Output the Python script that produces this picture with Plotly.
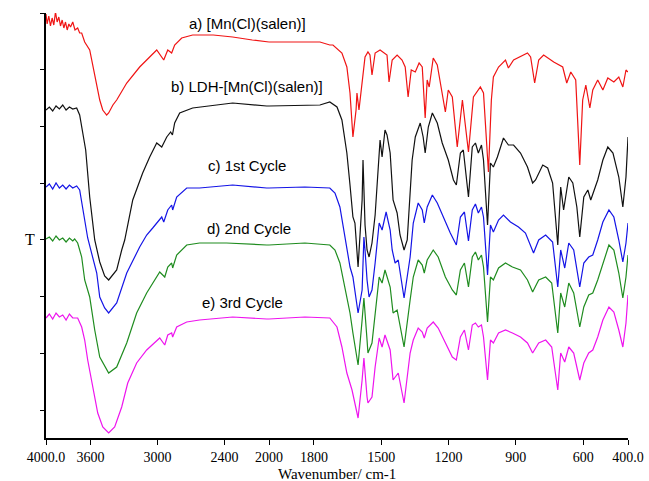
import plotly.graph_objects as go

# ---------------- data ----------------
# wavenumbers (cm-1) and transmittance in arbitrary offset units
wn_a = [4000, 3990, 3975, 3960, 3945, 3930, 3915, 3900, 3885, 3870, 3855, 3840, 3825, 3810, 3795, 3780,
        3760, 3740, 3716, 3698, 3680, 3653, 3608, 3581, 3545, 3518, 3491, 3456, 3438, 3400, 3366, 3276,
        3160, 3052, 3007, 2944, 2908, 2873, 2846, 2783, 2685, 2500, 2326, 2150, 2021, 2000,
        1863, 1773, 1729, 1715, 1675, 1653, 1639, 1626, 1612, 1608, 1599, 1585, 1572, 1559, 1550, 1541,
        1527, 1505, 1492, 1474, 1465, 1451, 1429, 1407, 1393, 1380, 1366, 1348, 1331, 1317, 1304, 1295,
        1286, 1268, 1250, 1237, 1214, 1201, 1183, 1161, 1138, 1111, 1089, 1058, 1044, 1022, 1009, 1000,
        977, 946, 933, 910, 848, 834, 816, 798, 776, 731, 691, 673, 655, 633, 615, 602, 588, 570, 557,
        535, 512, 490, 463, 441, 423, 409, 400]
t_a = [424, 414, 422, 412, 420, 413, 426, 416, 421, 412, 418, 410, 416, 408, 414, 411,
       416, 408, 410, 405, 405, 396, 388, 373, 355, 338, 328, 323, 325, 333, 338, 355,
       371, 383, 388, 378, 388, 385, 393, 400, 403, 403, 401, 398, 396, 396,
       396, 396, 393, 393, 385, 371, 345, 301, 328, 345, 328, 355, 381, 386, 383, 363,
       385, 388, 386, 383, 356, 378, 383, 378, 371, 341, 368, 366, 375, 371, 320, 358,
       351, 380, 373, 355, 326, 348, 341, 291, 338, 286, 341, 351, 345, 266, 338, 361,
       371, 378, 370, 378, 385, 381, 355, 378, 383, 376, 371, 355, 366, 358, 273, 338, 353, 330, 348,
       358, 348, 360, 356, 361, 351, 368, 366]

wn_b = [4000, 3970, 3940, 3910, 3880, 3850, 3820, 3790, 3760, 3725, 3698, 3671, 3644, 3608, 3563, 3518,
        3474, 3438, 3366, 3321, 3294, 3222, 3133, 3070, 3007, 2962, 2917, 2882, 2866, 2846, 2801, 2685,
        2326, 2021, 2000,
        1863, 1773, 1729, 1697, 1675, 1661, 1653, 1639, 1626, 1617, 1603, 1585, 1581, 1572, 1563, 1554,
        1541, 1527, 1509, 1505, 1496, 1483, 1474, 1460, 1447, 1429, 1416, 1398, 1384, 1362, 1348, 1326,
        1313, 1304, 1290, 1272, 1250, 1228, 1201, 1178, 1165, 1147, 1134, 1111, 1094, 1080, 1067, 1053,
        1044, 1026, 1013, 1000, 982, 955, 933, 910, 879, 848, 825, 812, 780, 758, 736, 713, 700, 687,
        664, 646, 628, 615, 597, 579, 566, 535, 512, 490, 467, 441, 423, 409, 400]
t_b = [328, 331, 327, 332, 329, 333, 328, 331, 329, 330, 323, 305, 288, 241, 198, 176,
       162, 158, 168, 188, 198, 238, 265, 281, 295, 291, 301, 306, 303, 315, 325, 330,
       335, 332, 332,
       333, 333, 336, 331, 318, 298, 285, 253, 221, 215, 171, 238, 278, 213, 188, 181,
       195, 223, 278, 298, 281, 308, 303, 285, 238, 225, 203, 188, 198, 278, 301, 315,
       301, 285, 311, 325, 315, 295, 278, 258, 253, 285, 288, 241, 291, 295, 285, 293,
       278, 213, 275, 271, 281, 300, 293, 293, 285, 271, 255, 258, 273, 270, 255, 193, 251, 228,
       261, 255, 231, 201, 241, 248, 238, 258, 278, 291, 285, 261, 231, 261, 301]

wn_c = [4000, 3970, 3940, 3910, 3880, 3850, 3820, 3790, 3760, 3725, 3698, 3671, 3635, 3626, 3545, 3518,
        3474, 3438, 3366, 3276, 3160, 3097, 3043, 2980, 2962, 2944, 2908, 2873, 2864, 2828, 2738, 2623,
        2326, 2021, 2000,
        1840, 1729, 1706, 1684, 1661, 1639, 1626, 1603, 1585, 1577, 1572, 1563, 1554, 1541, 1527, 1509,
        1496, 1478, 1460, 1451, 1438, 1424, 1398, 1371, 1357, 1335, 1317, 1308, 1295, 1272, 1250, 1223,
        1192, 1165, 1147, 1129, 1111, 1094, 1080, 1067, 1053, 1044, 1026, 1013, 1000, 977, 955, 924,
        888, 857, 834, 821, 798, 767, 736, 713, 700, 682, 664, 642, 615, 597, 575, 557, 535, 512, 485,
        463, 441, 423, 409, 400]
t_c = [251, 254, 249, 255, 250, 253, 249, 253, 250, 252, 248, 231, 205, 200, 165, 141,
       130, 125, 135, 165, 191, 203, 210, 218, 221, 216, 228, 233, 228, 241, 250, 250,
       253, 250, 250,
       251, 250, 245, 231, 201, 171, 161, 125, 148, 201, 188, 158, 141, 148, 175, 215,
       208, 226, 208, 188, 175, 178, 140, 181, 215, 235, 228, 215, 231, 243, 235, 221,
       205, 193, 221, 226, 197, 228, 234, 225, 231, 221, 163, 213, 206, 218, 223, 216,
       211, 205, 191, 185, 198, 203, 196, 151, 188, 170, 195, 188, 151, 175, 181, 183, 198, 216, 228,
       221, 198, 176, 195, 215]

wn_d = [4000, 3970, 3940, 3910, 3880, 3850, 3820, 3790, 3760, 3743, 3716, 3680, 3653, 3608, 3563, 3518,
        3438, 3366, 3276, 3187, 3097, 3025, 2980, 2935, 2908, 2873, 2864, 2828, 2738, 2623, 2381, 2021,
        2000,
        1840, 1729, 1706, 1684, 1661, 1639, 1626, 1603, 1585, 1577, 1563, 1559, 1541, 1527, 1509, 1496,
        1483, 1460, 1447, 1429, 1398, 1371, 1357, 1335, 1317, 1308, 1295, 1268, 1246, 1214, 1183, 1165,
        1147, 1129, 1111, 1094, 1080, 1067, 1053, 1044, 1026, 1013, 1000, 977, 946, 915, 879, 848, 825,
        798, 767, 740, 713, 700, 682, 664, 642, 615, 597, 575, 557, 535, 512, 485, 463, 441, 423, 409, 400]
t_d = [199, 201, 197, 202, 198, 200, 196, 200, 197, 199, 195, 181, 158, 141, 108, 81,
       65, 71, 95, 125, 145, 158, 166, 161, 171, 175, 170, 183, 193, 195, 195, 193,
       193,
       195, 193, 188, 175, 151, 125, 105, 73, 118, 140, 98, 85, 95, 125, 161, 155,
       168, 151, 125, 128, 91, 138, 161, 178, 173, 165, 178, 188, 181, 161, 148, 143,
       168, 175, 151, 181, 186, 178, 183, 171, 116, 161, 158, 170, 175, 171, 168, 158, 146,
       158, 161, 155, 105, 145, 131, 155, 145, 111, 131, 143, 145, 158, 175, 193, 188, 165, 140, 161, 183]

wn_e = [4000, 3970, 3940, 3910, 3880, 3850, 3820, 3790, 3760, 3716, 3680, 3653, 3626, 3581, 3536, 3491,
        3438, 3384, 3321, 3267, 3187, 3097, 3025, 2980, 2935, 2908, 2873, 2864, 2828, 2738, 2623, 2326,
        2021, 2000,
        1840, 1729, 1697, 1675, 1653, 1630, 1603, 1585, 1577, 1563, 1559, 1541, 1527, 1509, 1496, 1483,
        1460, 1447, 1424, 1398, 1371, 1357, 1335, 1317, 1308, 1295, 1268, 1246, 1214, 1183, 1165, 1147,
        1129, 1111, 1094, 1080, 1067, 1053, 1044, 1026, 1013, 1000, 977, 946, 915, 879, 848, 825, 798,
        767, 740, 713, 700, 682, 664, 642, 615, 597, 575, 557, 535, 512, 485, 463, 441, 423, 409, 400]
t_e = [120, 124, 119, 125, 121, 123, 118, 124, 120, 120, 111, 98, 78, 51, 25, 11,
       5, 11, 31, 55, 75, 88, 95, 100, 93, 103, 105, 101, 111, 116, 118, 121,
       119, 119,
       121, 120, 111, 91, 65, 48, 20, 58, 80, 41, 35, 41, 71, 100, 91, 103,
       88, 58, 65, 35, 85, 98, 110, 106, 100, 110, 116, 110, 95, 81, 78, 101,
       108, 88, 113, 115, 111, 113, 101, 58, 98, 95, 105, 108, 105, 101, 95, 85, 95,
       98, 91, 48, 85, 76, 91, 85, 58, 75, 85, 88, 101, 118, 131, 126, 108, 91, 115, 143]

series_names = ["a) [Mn(Cl)(salen)]", "b) LDH-[Mn(Cl)(salen)]", "c) 1st Cycle",
                "d) 2nd Cycle", "e) 3rd Cycle"]
series_colors = ["#f01414", "#111111", "#1414e6", "#1f8c1f", "#ee14ee"]

x_ticks_high = [4000, 3600, 3000, 2400, 2000]
x_ticktext_high = ["4000.0", "3600", "3000", "2400", "2000"]
x_ticks_low = [1800, 1500, 1200, 900, 600, 400]
x_ticktext_low = ["1800", "1500", "1200", "900", "600", "400.0"]

# ---------------- figure ----------------
fig = go.Figure()
all_series = [(wn_a, t_a), (wn_b, t_b), (wn_c, t_c), (wn_d, t_d), (wn_e, t_e)]
for (wn, t), name, col in zip(all_series, series_names, series_colors):
    hi_x = [w for w in wn if w >= 2000]
    hi_y = [v for w, v in zip(wn, t) if w >= 2000]
    lo_x = [w for w in wn if w <= 2000]
    lo_y = [v for w, v in zip(wn, t) if w <= 2000]
    fig.add_trace(go.Scatter(x=hi_x, y=hi_y, mode="lines", name=name, showlegend=False,
                             line=dict(color=col, width=1.2), xaxis="x", yaxis="y"))
    fig.add_trace(go.Scatter(x=lo_x, y=lo_y, mode="lines", name=name, showlegend=False,
                             line=dict(color=col, width=1.2), xaxis="x2", yaxis="y"))

split = 223 / 582.0
tickfont = dict(family="Liberation Serif, Times New Roman, serif", size=14, color="black")
common_x = dict(showgrid=False, zeroline=False, showline=True, linecolor="black", linewidth=1.5,
                ticks="outside", ticklen=5, tickwidth=1.2, tickcolor="black", tickfont=tickfont,
                anchor="y", mirror=False, automargin=False)
fig.update_layout(
    width=649, height=481,
    margin=dict(l=46, r=21, t=13, b=43, autoexpand=False),
    paper_bgcolor="white", plot_bgcolor="white",
    showlegend=False,
    xaxis=dict(domain=[0, split], range=[4000, 2000], tickvals=x_ticks_high,
               ticktext=x_ticktext_high, **common_x),
    xaxis2=dict(domain=[split, 1], range=[2000, 400], tickvals=x_ticks_low,
                ticktext=x_ticktext_low, **common_x),
    yaxis=dict(range=[0, 425], showgrid=False, zeroline=False, showline=True, linecolor="black",
               linewidth=1.5, ticks="outside", ticklen=4, tickwidth=1.2, tickcolor="black",
               tick0=28, dtick=56.67, showticklabels=False, automargin=False),
)

lab_font = dict(family="Liberation Sans, Arial, sans-serif", size=15, color="black")
label_pos = [(0.346, 0.976), (0.346, 0.826), (0.346, 0.642), (0.348, 0.492), (0.338, 0.318)]
for name, (px, py) in zip(series_names, label_pos):
    fig.add_annotation(text=name, x=px, y=py, xref="paper", yref="paper", showarrow=False,
                       xanchor="center", yanchor="middle", font=lab_font)

fig.add_annotation(text="Wavenumber/ cm-1", x=0.5, y=-0.084, xref="paper", yref="paper",
                   showarrow=False, xanchor="center", yanchor="middle",
                   font=dict(family="Liberation Serif, Times New Roman, serif", size=15, color="black"))
fig.add_annotation(text="T", x=-0.027, y=0.468, xref="paper", yref="paper", showarrow=False,
                   xanchor="center", yanchor="middle",
                   font=dict(family="Liberation Serif, Times New Roman, serif", size=16, color="black"))

fig.write_html("out.html", config={"displayModeBar": False},
               post_script="document.body.style.margin='0px';document.body.style.padding='0px';"
                           "document.body.style.overflow='hidden';")
